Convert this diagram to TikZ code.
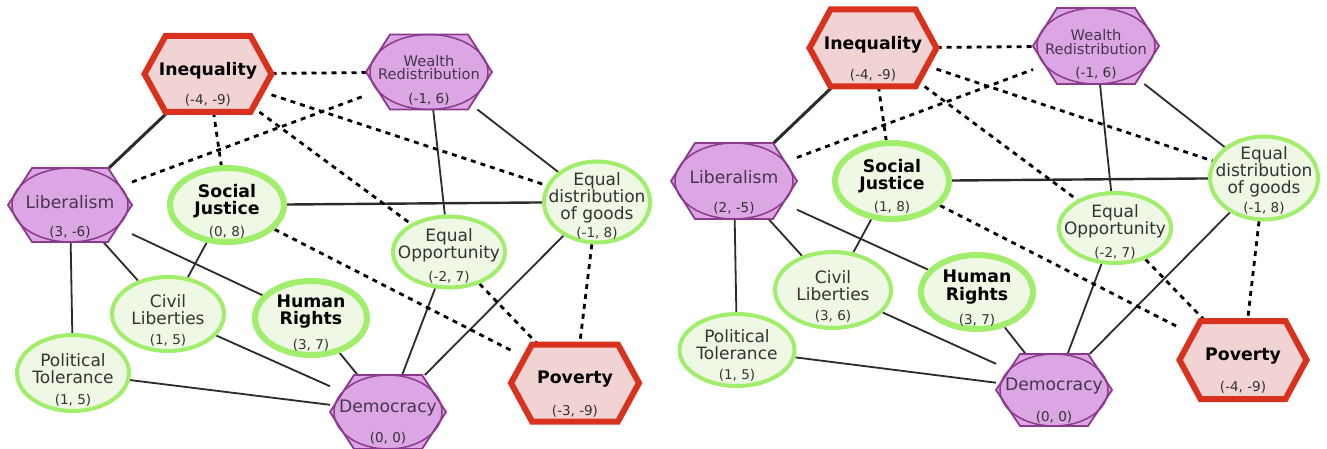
\documentclass[tikz,border=0pt]{standalone}
\usepackage{fontspec}
\setmainfont{DejaVu Sans}
\usetikzlibrary{shapes.geometric}
\pgfdeclarelayer{bg}
\pgfdeclarelayer{shp}
\pgfsetlayers{bg,shp,main}
\definecolor{purpfill}{HTML}{DBA6E3}
\definecolor{purpline}{HTML}{8C3A8C}
\definecolor{redline}{HTML}{D8321F}
\definecolor{redfill}{HTML}{F2D3D3}
\definecolor{grnline}{HTML}{A0EE6C}
\definecolor{grnfill}{HTML}{EEF8E4}
\definecolor{edgecol}{HTML}{2B2B2B}
\definecolor{purptext}{HTML}{45354F}
\definecolor{txt}{HTML}{333333}
\tikzset{
 lab/.style={font=\fontsize{17}{17}\selectfont, text=txt, align=center, inner sep=0pt},
 blab/.style={font=\fontsize{17.3}{17.5}\selectfont\bfseries, text=black, align=center, inner sep=0pt},
 plab/.style={font=\fontsize{17.2}{17}\selectfont, text=purptext, align=center, inner sep=0pt},
 wlab/.style={font=\fontsize{14.6}{13.5}\selectfont, text=purptext, align=center, inner sep=0pt},
 crd/.style={font=\fontsize{13.5}{14}\selectfont, text=txt, inner sep=0pt},
 grn/.style={ellipse, draw=grnline, fill=grnfill, line width=4pt, inner sep=0pt},
 grnb/.style={grn, line width=6pt},
 hexnode/.style={rectangle, inner sep=0pt, outer sep=0pt, draw=none},
 sol/.style={draw=edgecol, line width=1.8pt},
 dsh/.style={draw=black, line width=2.8pt, dash pattern=on 5pt off 5pt},
}
\newcommand\purphex[3]{%
 \begin{pgfonlayer}{shp}
 \path[fill=purpfill, draw=purpline, line width=1.8pt] (#1.west) -- ([xshift=24pt]#1.north west) -- ([xshift=-24pt]#1.north east) -- (#1.east) -- ([xshift=-24pt]#1.south east) -- ([xshift=24pt]#1.south west) -- cycle;
 \draw[purpline, line width=1.5pt] (#1.center) ellipse [x radius=#2, y radius=#3];
 \end{pgfonlayer}}
\newcommand\redhex[1]{%
 \begin{pgfonlayer}{shp}
 \path[fill=redfill, draw=redline, line width=6pt, line join=miter] (#1.west) -- ([xshift=21pt]#1.north west) -- ([xshift=-21pt]#1.north east) -- (#1.east) -- ([xshift=-21pt]#1.south east) -- ([xshift=21pt]#1.south west) -- cycle;
 \end{pgfonlayer}}
\begin{document}
\begin{tikzpicture}[x=1pt,y=-1pt]
\useasboundingbox (0,0) rectangle (1327,449);
\begin{pgfonlayer}{bg}
\fill[white] (0,0) rectangle (1327,449);
\end{pgfonlayer}
% ---------- left map ----------
\node[hexnode, minimum width=127pt, minimum height=76pt,
 label={[blab,yshift=3pt]center:Inequality}, label={[crd,yshift=-26pt]center:{(-4, -9)}}] (iL) at (208,74) {};
\node[hexnode, minimum width=126pt, minimum height=75pt,
 label={[wlab,yshift=4.5pt]center:{Wealth\\Redistribution}}, label={[crd,yshift=-27pt]center:{(-1, 6)}}] (wL) at (429,72) {};
\node[hexnode, minimum width=124pt, minimum height=74pt,
 label={[plab,yshift=3pt]center:Liberalism}, label={[crd,yshift=-27pt]center:{(3, -6)}}] (lL) at (70,205) {};
\node[grnb, minimum width=114pt, minimum height=74pt,
 label={[blab,yshift=4pt]center:{Social\\Justice}}, label={[crd,yshift=-27pt]center:{(0, 8)}}] (sL) at (227,205) {};
\node[grn, minimum width=106pt, minimum height=81pt,
 label={[lab,yshift=4pt]center:{Equal\\distribution\\of goods}}, label={[crd,yshift=-31pt]center:{(-1, 8)}}] (dL) at (597,202) {};
\node[grn, minimum width=112pt, minimum height=71pt,
 label={[lab,yshift=6.5pt]center:{Equal\\Opportunity}}, label={[crd,yshift=-25pt]center:{(-2, 7)}}] (oL) at (449,252) {};
\node[grn, minimum width=112pt, minimum height=74pt,
 label={[lab,yshift=4.5pt]center:{Civil\\Liberties}}, label={[crd,yshift=-26pt]center:{(1, 5)}}] (cL) at (168,314) {};
\node[grnb, minimum width=112pt, minimum height=74pt,
 label={[blab,yshift=6.5pt]center:{Human\\Rights}}, label={[crd,yshift=-27pt]center:{(3, 7)}}] (hL) at (311,318) {};
\node[grn, minimum width=112pt, minimum height=76pt,
 label={[lab,yshift=4.5pt]center:{Political\\Tolerance}}, label={[crd,yshift=-27pt]center:{(1, 5)}}] (pL) at (73,373) {};
\node[hexnode, minimum width=116pt, minimum height=74pt,
 label={[plab,yshift=4pt]center:Democracy}, label={[crd,yshift=-26pt]center:{(0, 0)}}] (mL) at (388,412) {};
\node[hexnode, minimum width=128pt, minimum height=77pt,
 label={[blab,yshift=4pt]center:Poverty}, label={[crd,yshift=-28pt]center:{(-3, -9)}}] (vL) at (575,383) {};
% ---------- right map ----------
\node[hexnode, minimum width=127pt, minimum height=77pt,
 label={[blab,yshift=3pt]center:Inequality}, label={[crd,yshift=-27pt]center:{(-4, -9)}}] (iR) at (873,48) {};
\node[hexnode, minimum width=126pt, minimum height=76pt,
 label={[wlab,yshift=4pt]center:{Wealth\\Redistribution}}, label={[crd,yshift=-27pt]center:{(-1, 6)}}] (wR) at (1096,46) {};
\node[hexnode, minimum width=126pt, minimum height=76pt,
 label={[plab,yshift=4pt]center:Liberalism}, label={[crd,yshift=-27pt]center:{(2, -5)}}] (lR) at (734,181) {};
\node[grnb, minimum width=114pt, minimum height=76pt,
 label={[blab,yshift=5pt]center:{Social\\Justice}}, label={[crd,yshift=-26pt]center:{(1, 8)}}] (sR) at (892,181) {};
\node[grn, minimum width=108pt, minimum height=83pt,
 label={[lab,yshift=6pt]center:{Equal\\distribution\\of goods}}, label={[crd,yshift=-30pt]center:{(-1, 8)}}] (dR) at (1264,178) {};
\node[grn, minimum width=112pt, minimum height=70pt,
 label={[lab,yshift=7pt]center:{Equal\\Opportunity}}, label={[crd,yshift=-25pt]center:{(-2, 7)}}] (oR) at (1115,228) {};
\node[grn, minimum width=116pt, minimum height=76pt,
 label={[lab,yshift=4.5pt]center:{Civil\\Liberties}}, label={[crd,yshift=-26pt]center:{(3, 6)}}] (cR) at (833,290) {};
\node[grnb, minimum width=112pt, minimum height=74pt,
 label={[blab,yshift=5pt]center:{Human\\Rights}}, label={[crd,yshift=-28pt]center:{(3, 7)}}] (hR) at (977,292) {};
\node[grn, minimum width=115pt, minimum height=72pt,
 label={[lab,yshift=5pt]center:{Political\\Tolerance}}, label={[crd,yshift=-25pt]center:{(1, 5)}}] (pR) at (737,350) {};
\node[hexnode, minimum width=116pt, minimum height=72pt,
 label={[plab,yshift=4pt]center:Democracy}, label={[crd,yshift=-27pt]center:{(0, 0)}}] (mR) at (1054,390) {};
\node[hexnode, minimum width=127pt, minimum height=78pt,
 label={[blab,yshift=4pt]center:Poverty}, label={[crd,yshift=-27pt]center:{(-4, -9)}}] (vR) at (1243,360) {};
% ---------- shapes of hexagon nodes ----------
\redhex{iL}\redhex{vL}\redhex{iR}\redhex{vR}
\purphex{wL}{59pt}{37.5pt}
\purphex{lL}{58pt}{37pt}
\purphex{mL}{54pt}{37pt}
\purphex{wR}{59pt}{38pt}
\purphex{lR}{59pt}{38pt}
\purphex{mR}{54pt}{36pt}
% ---------- connectors ----------
\begin{pgfonlayer}{bg}
\foreach \s in {L,R}{
 \draw[sol, line width=3pt] (i\s) -- (l\s);
 \draw[sol, line width=2.4pt] (s\s) -- (d\s);
 \draw[sol] (l\s) -- (p\s);
 \draw[sol] (l\s) -- (c\s);
 \draw[sol] (l\s) -- (h\s);
 \draw[sol] (s\s) -- (c\s);
 \draw[sol] (w\s) -- (o\s);
 \draw[sol] (w\s) -- (d\s);
 \draw[sol] (c\s) -- (m\s);
 \draw[sol] (p\s) -- (m\s);
 \draw[sol] (h\s) -- (m\s);
 \draw[sol] (o\s) -- (m\s);
 \draw[sol] (d\s) -- (m\s);
 \draw[dsh] (i\s) -- (w\s);
 \draw[dsh] (i\s) -- (s\s);
 \draw[dsh] (i\s) -- (d\s);
 \draw[dsh] (i\s) -- (o\s);
 \draw[dsh] (l\s) -- (w\s);
 \draw[dsh] (s\s) -- (v\s);
 \draw[dsh] (o\s) -- (v\s);
 \draw[dsh] (d\s) -- (v\s);
}
\end{pgfonlayer}
\end{tikzpicture}
\end{document}
